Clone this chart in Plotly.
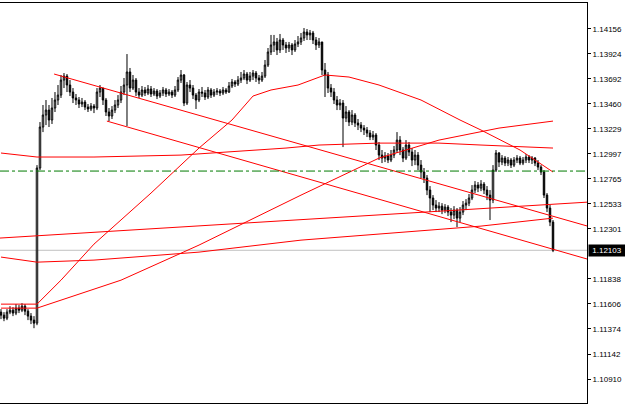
import plotly.graph_objects as go

# ---- candle data (EURUSD-like, one value per bar) ----
first_open = 1.11530
close = [1.11502,1.11474,1.11530,1.11548,1.11521,1.11567,1.11548,1.11585,1.11539,1.11493,
         1.11456,1.11428,1.12865,1.13245,1.13356,1.13402,1.13310,1.13421,1.13495,1.13541,
         1.13680,1.13717,1.13634,1.13569,1.13514,1.13495,1.13458,1.13476,1.13430,1.13412,
         1.13439,1.13421,1.13569,1.13606,1.13495,1.13384,1.13347,1.13402,1.13449,1.13495,
         1.13569,1.13634,1.13755,1.13606,1.13680,1.13569,1.13541,1.13588,1.13560,1.13597,
         1.13551,1.13578,1.13532,1.13560,1.13588,1.13551,1.13569,1.13541,1.13588,1.13680,
         1.13727,1.13467,1.13634,1.13606,1.13541,1.13495,1.13569,1.13560,1.13523,1.13588,
         1.13541,1.13569,1.13578,1.13560,1.13588,1.13569,1.13625,1.13662,1.13643,1.13680,
         1.13699,1.13736,1.13680,1.13717,1.13745,1.13699,1.13680,1.13717,1.13819,1.13940,
         1.14005,1.14033,1.13959,1.14051,1.14005,1.13977,1.14005,1.13959,1.14014,1.14033,
         1.14070,1.14125,1.14098,1.14116,1.14051,1.14005,1.14033,1.13773,1.13727,1.13606,
         1.13569,1.13495,1.13449,1.13467,1.13328,1.13384,1.13291,1.13356,1.13282,1.13263,
         1.13235,1.13217,1.13189,1.13152,1.13171,1.13078,1.12985,1.12957,1.12976,1.12939,
         1.12985,1.13032,1.13124,1.13032,1.12957,1.13078,1.13013,1.12939,1.12985,1.12892,
         1.12828,1.12772,1.12661,1.12587,1.12522,1.12494,1.12512,1.12475,1.12503,1.12457,
         1.12429,1.12475,1.12401,1.12457,1.12522,1.12540,1.12587,1.12661,1.12707,1.12679,
         1.12716,1.12661,1.12614,1.12568,1.12846,1.13004,1.12920,1.12957,1.12911,1.12939,
         1.12892,1.12939,1.12957,1.12911,1.12939,1.12967,1.12939,1.12957,1.12911,1.12874,
         1.12828,1.12614,1.12494,1.12364,1.12103]
high = [1.11558,1.11530,1.11558,1.11585,1.11576,1.11604,1.11595,1.11613,1.11604,1.11558,
        1.11521,1.11493,1.12892,1.13291,1.13449,1.13495,1.13449,1.13514,1.13569,1.13634,
        1.13727,1.13745,1.13736,1.13680,1.13606,1.13551,1.13523,1.13514,1.13495,1.13458,
        1.13467,1.13458,1.13606,1.13634,1.13606,1.13514,1.13421,1.13439,1.13495,1.13541,
        1.13625,1.13699,1.13921,1.13792,1.13727,1.13699,1.13606,1.13625,1.13616,1.13634,
        1.13625,1.13606,1.13597,1.13588,1.13616,1.13606,1.13597,1.13588,1.13625,1.13708,
        1.13773,1.13736,1.13662,1.13680,1.13634,1.13560,1.13597,1.13616,1.13588,1.13616,
        1.13606,1.13597,1.13606,1.13597,1.13616,1.13606,1.13662,1.13690,1.13680,1.13717,
        1.13755,1.13773,1.13755,1.13755,1.13773,1.13764,1.13727,1.13755,1.13866,1.13977,
        1.14098,1.14098,1.14070,1.14107,1.14070,1.14033,1.14033,1.14023,1.14051,1.14088,
        1.14116,1.14162,1.14153,1.14144,1.14135,1.14079,1.14070,1.14005,1.13838,1.13755,
        1.13643,1.13606,1.13532,1.13504,1.13495,1.13439,1.13402,1.13402,1.13374,1.13319,
        1.13291,1.13263,1.13245,1.13217,1.13208,1.13189,1.13106,1.13032,1.13013,1.13004,
        1.13032,1.13069,1.13198,1.13161,1.13059,1.13124,1.13106,1.13050,1.13032,1.13013,
        1.12939,1.12865,1.12800,1.12698,1.12614,1.12568,1.12549,1.12540,1.12531,1.12522,
        1.12494,1.12512,1.12494,1.12503,1.12559,1.12577,1.12624,1.12707,1.12744,1.12735,
        1.12753,1.12735,1.12698,1.12661,1.12892,1.13032,1.13013,1.12985,1.12976,1.12967,
        1.12957,1.12967,1.12985,1.12976,1.12967,1.12994,1.12985,1.12976,1.12967,1.12939,
        1.12892,1.12846,1.12633,1.12522,1.12383]
low = [1.11465,1.11446,1.11456,1.11511,1.11493,1.11502,1.11521,1.11530,1.11502,1.11456,
       1.11419,1.11381,1.11409,1.12846,1.13198,1.13263,1.13245,1.13273,1.13384,1.13449,
       1.13514,1.13606,1.13569,1.13532,1.13467,1.13449,1.13421,1.13430,1.13402,1.13384,
       1.13393,1.13374,1.13402,1.13523,1.13449,1.13347,1.13300,1.13319,1.13374,1.13421,
       1.13467,1.13541,1.13254,1.13569,1.13588,1.13532,1.13514,1.13523,1.13532,1.13541,
       1.13523,1.13532,1.13504,1.13514,1.13532,1.13523,1.13532,1.13514,1.13523,1.13569,
       1.13653,1.13439,1.13449,1.13569,1.13504,1.13412,1.13476,1.13523,1.13495,1.13504,
       1.13514,1.13523,1.13541,1.13532,1.13541,1.13551,1.13560,1.13606,1.13616,1.13625,
       1.13653,1.13680,1.13643,1.13662,1.13680,1.13662,1.13643,1.13662,1.13699,1.13801,
       1.13912,1.13940,1.13912,1.13931,1.13959,1.13931,1.13940,1.13912,1.13940,1.13986,
       1.14005,1.14042,1.14051,1.14051,1.14014,1.13959,1.13977,1.13727,1.13523,1.13560,
       1.13523,1.13458,1.13402,1.13402,1.13059,1.13291,1.13254,1.13263,1.13245,1.13217,
       1.13198,1.13171,1.13152,1.13124,1.13124,1.13032,1.12939,1.12911,1.12920,1.12911,
       1.12920,1.12957,1.13004,1.12985,1.12920,1.12939,1.12976,1.12883,1.12892,1.12846,
       1.12772,1.12726,1.12614,1.12457,1.12475,1.12457,1.12457,1.12438,1.12447,1.12420,
       1.12364,1.12392,1.12318,1.12364,1.12429,1.12475,1.12512,1.12568,1.12633,1.12642,
       1.12651,1.12624,1.12568,1.12383,1.12540,1.12828,1.12874,1.12892,1.12883,1.12883,
       1.12865,1.12874,1.12911,1.12892,1.12892,1.12911,1.12911,1.12902,1.12883,1.12846,
       1.12800,1.12587,1.12457,1.12327,1.12086]
bars = list(range(len(close)))
opens = [first_open] + close[:-1]

# ---- indicator lines (bar index, price) ----
ma_flat_x = [0, 12, 31, 60, 95, 106, 126, 146, 160, 184]
ma_flat_y = [1.13004, 1.12967, 1.12967, 1.12985, 1.13050, 1.13078, 1.13096, 1.13096, 1.13078, 1.13050]

ma_fast_x = [0, 12, 20, 31, 50, 66, 77, 84, 90, 99, 108, 116, 126, 140, 153, 160, 173, 184]
ma_fast_y = [1.11604, 1.11604, 1.11826, 1.12160, 1.12633, 1.13050, 1.13310, 1.13532, 1.13588,
             1.13634, 1.13727, 1.13708, 1.13634, 1.13495, 1.13310, 1.13217, 1.13032, 1.12828]

ma_mid_x = [0, 12, 40, 66, 100, 126, 146, 166, 184]
ma_mid_y = [1.11567, 1.11567, 1.11826, 1.12151, 1.12614, 1.12957, 1.13124, 1.13235, 1.13300]

ma_slow_x = [0, 12, 31, 66, 100, 133, 160, 184]
ma_slow_y = [1.12040, 1.11993, 1.12012, 1.12086, 1.12197, 1.12271, 1.12327, 1.12401]

trend_x = [-0.5, 195.5]
trend_y = [1.12216, 1.12549]

chan_up_x = [17.7, 195.5]
chan_up_y = [1.13736, 1.12327]
chan_lo_x = [35.3, 195.5]
chan_lo_y = [1.13300, 1.12021]

level_green = 1.12837
bid_price = 1.12103

ytick_vals = [1.14156, 1.13924, 1.13692, 1.13460, 1.13229, 1.12997, 1.12765,
              1.12533, 1.12301, 1.11838, 1.11606, 1.11374, 1.11142, 1.10910]
ytick_text = ["1.14156", "1.13924", "1.13692", "1.13460", "1.13229", "1.12997", "1.12765",
              "1.12533", "1.12301", "1.11838", "1.11606", "1.11374", "1.11142", "1.10910"]

fig = go.Figure()

fig.add_hline(y=bid_price, line=dict(color="#c0c0c0", width=1), layer="below")

fig.add_trace(go.Candlestick(
    x=bars, open=opens, high=high, low=low, close=close,
    increasing=dict(line=dict(color="black", width=1), fillcolor="white"),
    decreasing=dict(line=dict(color="black", width=1), fillcolor="black"),
    whiskerwidth=0, showlegend=False, hoverinfo="skip"))

red = "#ff0000"
for xs, ys in [(ma_flat_x, ma_flat_y), (ma_fast_x, ma_fast_y), (ma_mid_x, ma_mid_y),
               (ma_slow_x, ma_slow_y), (trend_x, trend_y), (chan_up_x, chan_up_y),
               (chan_lo_x, chan_lo_y)]:
    fig.add_trace(go.Scatter(x=xs, y=ys, mode="lines", line=dict(color=red, width=1),
                             showlegend=False, hoverinfo="skip"))

fig.add_hline(y=level_green, line=dict(color="#007a00", width=1, dash="dashdot"))

fig.add_annotation(x=1, xref="paper", y=bid_price, yref="y", xanchor="left",
                   text="1.12103", showarrow=False, bgcolor="black",
                   font=dict(color="white", size=8, family="Liberation Sans"),
                   width=36, height=11, borderpad=0, xshift=1)

fig.update_layout(
    width=625, height=405,
    margin=dict(l=0, r=38, t=3, b=2),
    paper_bgcolor="white", plot_bgcolor="white",
    font=dict(family="Liberation Sans", size=8, color="black"),
    xaxis=dict(range=[-0.33, 195.33], showticklabels=False, showgrid=False, zeroline=False,
               rangeslider=dict(visible=False), showline=True, linecolor="black",
               linewidth=1, mirror=True, ticks=""),
    yaxis=dict(range=[1.10688, 1.14394], side="right", tickvals=ytick_vals,
               ticktext=ytick_text, showgrid=False, zeroline=False, showline=True,
               linecolor="black", linewidth=1, ticks="outside", ticklen=3,
               tickcolor="black", tickfont=dict(size=8, family="Liberation Sans")),
)

fig.write_html("out.html")
